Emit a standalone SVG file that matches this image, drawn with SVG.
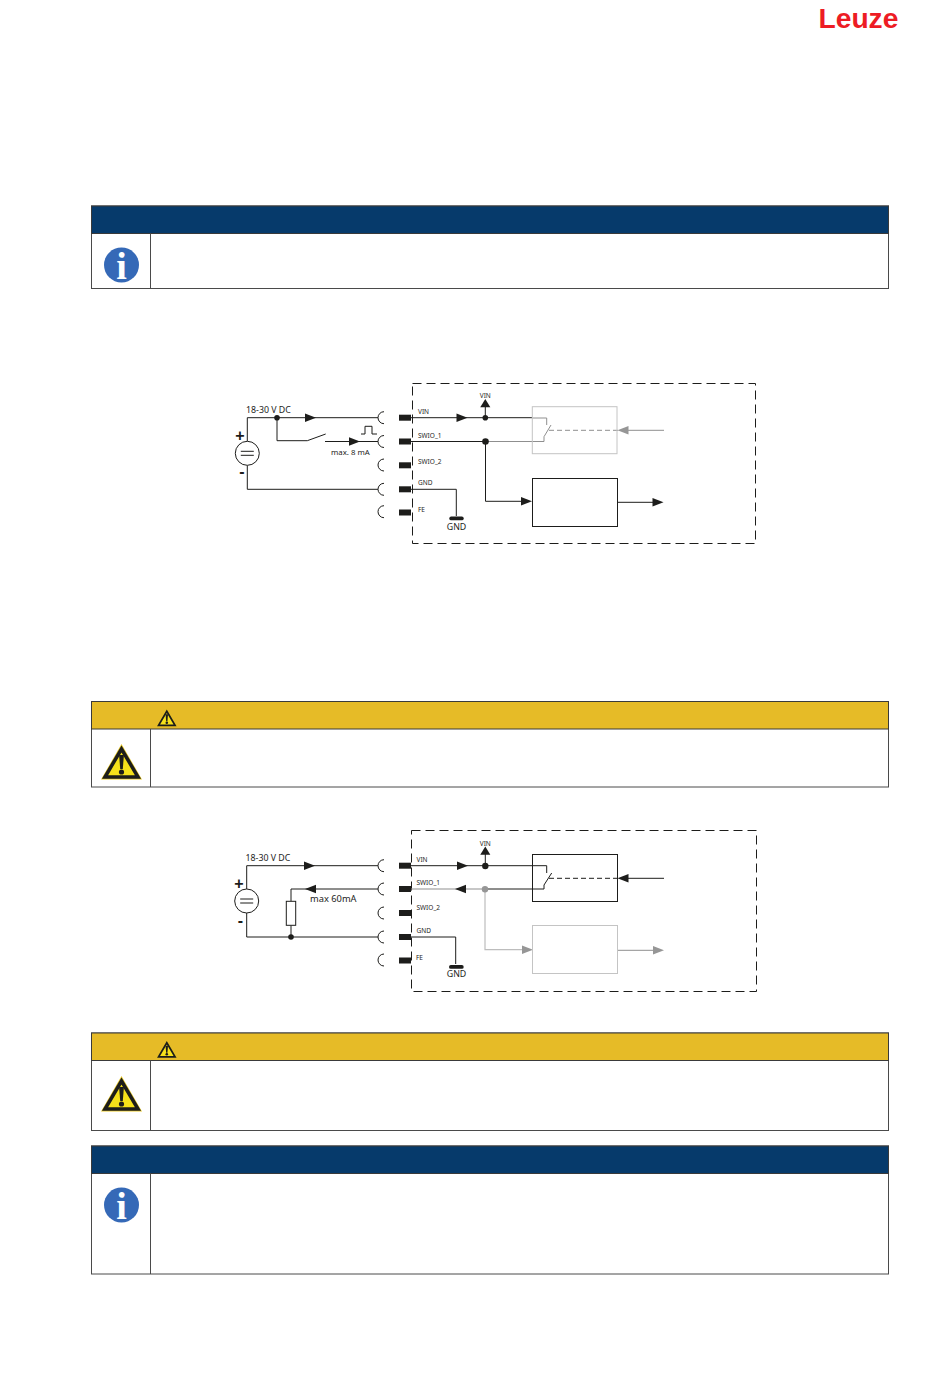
<svg xmlns="http://www.w3.org/2000/svg" xmlns:xlink="http://www.w3.org/1999/xlink" width="950" height="1379" viewBox="0 0 950 1379">
<style>
.bg{fill:#fff}
.frame{fill:#fff;stroke:#4a4a4a;stroke-width:1}
.navy{fill:#063a6b;stroke:#3a3a3a;stroke-width:1}
.gold{fill:#e6bb27;stroke:#3a3a3a;stroke-width:1}
.div{stroke:#4a4a4a;stroke-width:1;fill:none}
.w{fill:none;stroke:#1d1d1b;stroke-width:1}
.g{fill:none;stroke:#8f8f8f;stroke-width:1}
.lg{fill:none;stroke:#bdbdbd;stroke-width:1.200}
.dash{stroke-dasharray:9 5}
.sd{stroke-dasharray:5 3}
.b{fill:#1d1d1b}
.gf{fill:#969696}
.t{font-family:"Noto Sans","Open Sans",sans-serif;fill:#1d1d1b}
.s{font-size:6.500px}
.m{font-size:8.800px}
.pm{font-family:"Liberation Sans",sans-serif;font-weight:bold;font-size:16px;fill:#1d1d1b;text-anchor:middle}
</style>
<defs>
<path id="ar" d="M-11-4.200 L0 0 L-11 4.200Z"/>
<g id="warn-big">
<path d="M0-35.500 L20.500 0 H-20.500Z" fill="#e9c820"/>
<path d="M0-30.500 L16.500-2.500 H-16.500Z" fill="#f6e11a" stroke="#1d1d1b" stroke-width="3.500" stroke-linejoin="miter"/>
<path d="M-2.400-24.500 H2.400 L1.300-10.500 H-1.300Z" fill="#1d1d1b"/>
<circle cx="0" cy="-7.500" r="2.600" fill="#1d1d1b"/>
</g>
<g id="src">
<circle r="12" fill="#fff" stroke="#1d1d1b" stroke-width="1"/>
<path d="M-6.500-2 H6.500 M-6.500 2 H6.500" class="w"/>
</g>
<path id="arc" d="M6-6 A6 6 0 0 0 6 6" class="w"/>
<rect id="pin" x="0" y="-3" width="12" height="6" fill="#1d1d1b"/>
</defs>
<rect class="bg" width="950" height="1379"/>

<text id="logo" x="818.500" y="28" font-family="'Liberation Sans',sans-serif" font-weight="bold" font-size="28.200" fill="#ed1c24">Leuze</text>

<g id="notice-1">
<rect class="frame" x="91.500" y="206" width="797" height="82.500"/>
<rect class="navy" x="91.500" y="206" width="797" height="27.500"/>
<path class="div" d="M150.500 233.500V288.500"/>
<circle cx="121.500" cy="265" r="17.500" fill="#3569b7"/>
<text x="121.500" y="279" text-anchor="middle" font-family="'Liberation Serif',serif" font-weight="bold" font-size="38" fill="#fff">i</text>
</g>

<g id="notice-2">
<rect class="frame" x="91.500" y="701.500" width="797" height="85.500"/>
<rect class="gold" x="91.500" y="701.500" width="797" height="27.500"/>
<path class="div" d="M150.500 729V787"/>
<use href="#warn-big" transform="translate(121.500 779.500)"/>
<use href="#warn-big" transform="translate(166.800 726.500) scale(.5)"/>
</g>

<g id="notice-3">
<rect class="frame" x="91.500" y="1033" width="797" height="97.500"/>
<rect class="gold" x="91.500" y="1033" width="797" height="27.500"/>
<path class="div" d="M150.500 1060.500V1130.500"/>
<use href="#warn-big" transform="translate(121.500 1111.500)"/>
<use href="#warn-big" transform="translate(166.800 1058) scale(.5)"/>
</g>

<g id="notice-4">
<rect class="frame" x="91.500" y="1146" width="797" height="128"/>
<rect class="navy" x="91.500" y="1146" width="797" height="27.500"/>
<path class="div" d="M150.500 1173.500V1274"/>
<circle cx="121.500" cy="1205" r="17.500" fill="#3569b7"/>
<text x="121.500" y="1219" text-anchor="middle" font-family="'Liberation Serif',serif" font-weight="bold" font-size="38" fill="#fff">i</text>
</g>

<g id="diagram-1">
<g id="d1-connectors">
<path class="w dash" d="M412.500 383.500H755.500V543.500H412.500Z"/>
<path class="w" d="M247.300 441.300V417.700H378"/>
<path class="w" d="M247.300 465.300V489.300H378"/>
<path class="w" d="M277 417.700V440.700H307.300L325.700 434"/>
<path class="w" d="M325 441.500H378"/>
<path class="w" d="M361 434H365V426.300H372V434H377"/>
<path class="w" d="M411 417.700H532"/>
<path class="w" d="M411 441.500H485.500"/>
<path class="w" d="M485.300 417.700V404"/>
<path class="w" d="M485.500 441.500V501.300H523"/>
<path class="w" d="M411 489.300H456.300V516"/>
<path class="g" d="M532 418H546.700V425"/>
<path class="g" d="M485.500 441.500H544V436.700L551 425"/>
<path class="g sd" d="M549 430.300H618"/>
<path class="g" d="M625 430.300H664"/>
<path class="w" d="M617.500 502.300H655"/>
<use class="b" href="#ar" transform="translate(316 417.700)"/>
<use class="b" href="#ar" transform="translate(360 441.500)"/>
<use class="b" href="#ar" transform="translate(467.500 417.700)"/>
<use class="b" href="#ar" transform="translate(532 501.300)"/>
<use class="b" href="#ar" transform="translate(663.500 502.300)"/>
<use class="b" href="#ar" transform="translate(485.300 399) rotate(-90) scale(.75 1.200)"/>
<use class="gf" href="#ar" transform="translate(617.500 430.300) rotate(180)"/>
</g>
<g id="d1-source"><use href="#src" x="247.300" y="453.300"/>
<text class="pm" x="240" y="440.500">+</text><text class="pm" x="242" y="477">-</text>
<text class="t m" x="246" y="412.700">18-30 V DC</text>
<circle class="b" cx="277" cy="417.700" r="2.800"/></g>
<g id="d1-pins">
<use href="#arc" x="378" y="417.700"/><use href="#arc" x="378" y="441.500"/><use href="#arc" x="378" y="465"/><use href="#arc" x="378" y="489.300"/><use href="#arc" x="378" y="511.700"/>
<use href="#pin" x="399" y="417.700"/><use href="#pin" x="399" y="441.500"/><use href="#pin" x="399" y="465.300"/><use href="#pin" x="399" y="489.300"/><use href="#pin" x="399" y="512.500"/>
<text class="t s" x="418" y="413.800">VIN</text><text class="t s" x="418" y="437.500">SWIO_1</text><text class="t s" x="418" y="463.500">SWIO_2</text><text class="t s" x="418" y="485">GND</text><text class="t s" x="418" y="511.500">FE</text>
</g>
<g id="d1-vin"><circle class="b" cx="485.300" cy="417.700" r="2.800"/><circle class="b" cx="485.500" cy="441.500" r="3.300"/>
<text class="t s" x="485.300" y="397.700" text-anchor="middle">VIN</text></g>
<g id="d1-switch-box"><rect x="532.300" y="406.700" width="84.700" height="47" fill="none" stroke="#c4c4c4"/></g>
<g id="d1-output-box"><rect x="532.500" y="478.500" width="85" height="48" fill="none" stroke="#1d1d1b"/></g>
<g id="d1-gnd"><rect class="b" x="449.300" y="516.500" width="14.400" height="3.800" rx="1.900"/><text class="t m" x="456.500" y="529.500" text-anchor="middle">GND</text></g>
<text class="t" font-size="7.800" x="331" y="455.300">max. 8 mA</text>
</g>

<g id="diagram-2">
<g id="d2-connectors">
<path class="w dash" d="M411.500 830.500H756.500V991.500H411.500Z"/>
<path class="w" d="M246.700 889V865.700H378"/>
<path class="w" d="M246.700 913V937H378"/>
<path class="w" d="M291 901.300V889H378"/>
<path class="w" d="M291 925.300V937"/>
<path class="w" d="M411 865.700H546.700V873"/>
<path class="g" d="M411 889H485"/>
<path class="w" d="M485 889H544V885L551.700 873"/>
<path class="w" d="M485.300 866V852"/>
<path class="w sd" d="M549 878.300H618"/>
<path class="w" d="M625 878.300H664"/>
<path class="w" d="M411 937H455.700V964"/>
<path class="lg" d="M485 889V949.700H523"/>
<path class="g" d="M617.500 950.300H655"/>
<use class="b" href="#ar" transform="translate(315 865.700)"/>
<use class="b" href="#ar" transform="translate(305 889) rotate(180)"/>
<use class="b" href="#ar" transform="translate(468 865.700)"/>
<use class="b" href="#ar" transform="translate(455 889) rotate(180)"/>
<use class="b" href="#ar" transform="translate(485.300 846.500) rotate(-90) scale(.75 1.200)"/>
<use class="b" href="#ar" transform="translate(617.500 878.300) rotate(180)"/>
<use class="gf" href="#ar" transform="translate(533 949.700)"/>
<use class="gf" href="#ar" transform="translate(664 950.300)"/>
</g>
<g id="d2-source"><use href="#src" x="246.700" y="901"/>
<text class="pm" x="239" y="888.500">+</text><text class="pm" x="240.500" y="926">-</text>
<text class="t m" x="245.500" y="860.500">18-30 V DC</text></g>
<g id="d2-resistor"><rect x="286.300" y="901.300" width="9.400" height="24" fill="#fff" stroke="#1d1d1b"/><circle class="b" cx="291" cy="937" r="2.800"/>
<text class="t" font-size="9.300" x="310" y="901.700">max 60mA</text></g>
<g id="d2-pins">
<use href="#arc" x="378" y="865.700"/><use href="#arc" x="378" y="889"/><use href="#arc" x="378" y="913"/><use href="#arc" x="378" y="937"/><use href="#arc" x="378" y="960"/>
<use href="#pin" x="399" y="865.700"/><use href="#pin" x="399" y="889"/><use href="#pin" x="399" y="913"/><use href="#pin" x="399" y="937"/><use href="#pin" x="399" y="960.500"/>
<text class="t s" x="416.500" y="861.700">VIN</text><text class="t s" x="416.500" y="884.500">SWIO_1</text><text class="t s" x="416.500" y="909.500">SWIO_2</text><text class="t s" x="416.500" y="932.500">GND</text><text class="t s" x="416" y="959.500">FE</text>
</g>
<g id="d2-vin"><circle class="b" cx="485.300" cy="866" r="3.200"/><circle class="gf" cx="485" cy="889.300" r="3.200"/>
<text class="t s" x="485.300" y="845.700" text-anchor="middle">VIN</text></g>
<g id="d2-switch-box"><rect x="532.500" y="854.500" width="85" height="47" fill="none" stroke="#1d1d1b"/></g>
<g id="d2-output-box"><rect x="532.500" y="925.500" width="85" height="48" fill="none" stroke="#c4c4c4"/></g>
<g id="d2-gnd"><rect class="b" x="449" y="965" width="14.700" height="3.800" rx="1.900"/><text class="t m" x="456.500" y="977" text-anchor="middle">GND</text></g>
</g>
</svg>
